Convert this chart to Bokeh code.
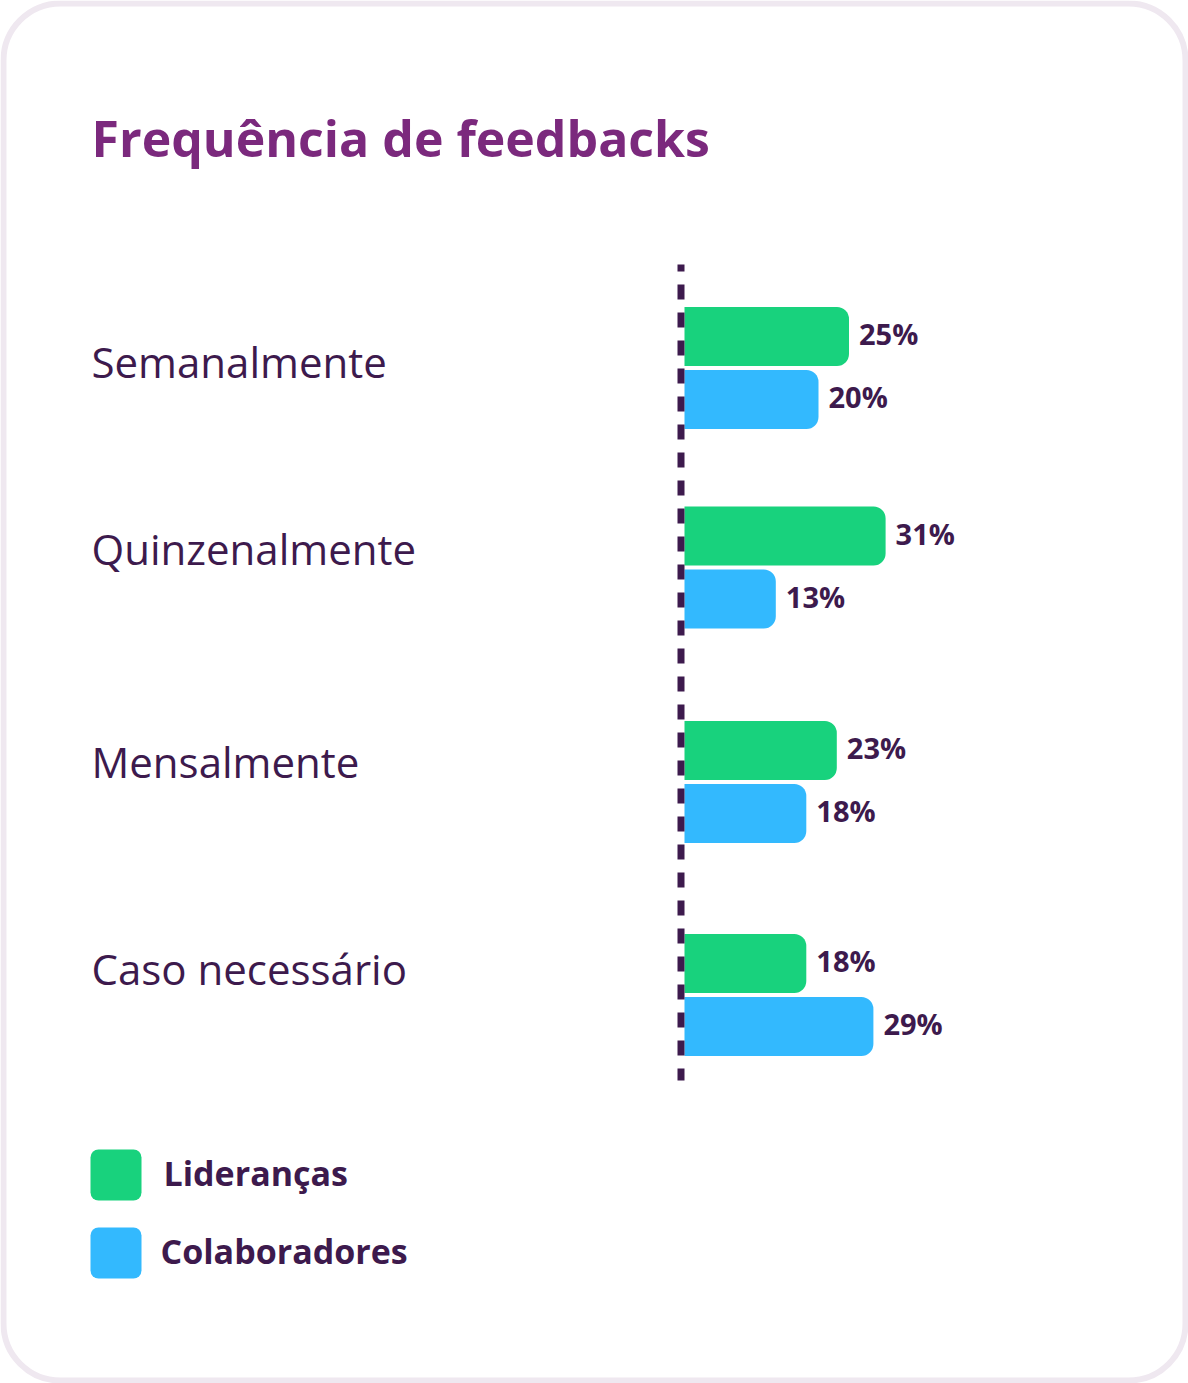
from bokeh.plotting import figure
from bokeh.models import Range1d
from bokeh.core.properties import value
from bokeh.embed import file_html
from bokeh.resources import INLINE

# ---------------- data ----------------
chart_title = "Frequência de feedbacks"
categories = ["Semanalmente", "Quinzenalmente", "Mensalmente", "Caso necessário"]
liderancas = [25, 31, 23, 18]
colaboradores = [20, 13, 18, 29]
series_names = ["Lideranças", "Colaboradores"]
value_labels_lid = [f"{v}%" for v in liderancas]
value_labels_col = [f"{v}%" for v in colaboradores]

# ---------------- layout (pixel space) ----------------
W, H = 1188, 1383

GREEN = "#18d27d"
BLUE = "#33b9fe"
DARK = "#3d1a4d"
PURPLE = "#7b297d"
BORDER = "#efe8f0"
FONT = value("Open Sans")

group_center = [367.5, 567, 781.5, 994.5]
label_baseline = [377, 564, 777, 984]
BAR_H = 59
BAR_SHIFT = 31.5
ZERO_PX = 696.0      # px where 0 % sits on the bar scale
PX_PER_PCT = 6.1
BAR_START_PX = 684.0

p = figure(width=W, height=H, output_backend="svg", toolbar_location=None,
           x_range=Range1d(0, W), y_range=Range1d(H, 0),
           x_axis_location=None, y_axis_location=None, min_border=0,
           background_fill_color="white", border_fill_color="white")
p.outline_line_color = None
p.grid.visible = False

# percentage scale for bars
p.extra_x_ranges = {"pct": Range1d(-ZERO_PX / PX_PER_PCT, (W - ZERO_PX) / PX_PER_PCT)}
bar_left = (BAR_START_PX - ZERO_PX) / PX_PER_PCT

# card
p.quad(left=3, right=W - 3, top=3, bottom=H - 3, fill_color="white",
       line_color=BORDER, line_width=6, border_radius=57)

# title
p.text(x=[91], y=[157 - 20], text=[chart_title], text_font=FONT, text_font_style="bold",
       text_font_size="50px", text_color=PURPLE, text_baseline="alphabetic", text_align="left")

# category labels
p.text(x=[91] * len(categories), y=[b - 16 for b in label_baseline], text=categories, text_font=FONT,
       text_font_size="42px", text_color=DARK, text_baseline="alphabetic", text_align="left")

# bars
y_lid = [c - BAR_SHIFT for c in group_center]
y_col = [c + BAR_SHIFT for c in group_center]
radius = (0, 12, 12, 0)
p.hbar(y=y_lid, left=bar_left, right=liderancas, height=BAR_H, x_range_name="pct",
       fill_color=GREEN, line_color=None, border_radius=radius)
p.hbar(y=y_col, left=bar_left, right=colaboradores, height=BAR_H, x_range_name="pct",
       fill_color=BLUE, line_color=None, border_radius=radius)

# value labels
CAP_HALF = 11 - 14
p.text(x=liderancas, y=[y + CAP_HALF for y in y_lid], text=value_labels_lid, x_range_name="pct",
       x_offset=10, text_font=FONT, text_font_style="bold", text_font_size="29px",
       text_color=DARK, text_baseline="alphabetic", text_align="left")
p.text(x=colaboradores, y=[y + CAP_HALF for y in y_col], text=value_labels_col, x_range_name="pct",
       x_offset=10, text_font=FONT, text_font_style="bold", text_font_size="29px",
       text_color=DARK, text_baseline="alphabetic", text_align="left")

# dashed baseline axis
p.line(x=[680.5, 680.5], y=[264, 1080], line_width=7, line_color=DARK,
       line_dash="15 13", line_dash_offset=8)

# legend
leg_top = [1149, 1227]
leg_colors = [GREEN, BLUE]
p.quad(left=[90, 90], right=[141, 141], top=leg_top, bottom=[t + 51 for t in leg_top],
       fill_color=leg_colors, line_color=None, border_radius=8)
p.text(x=[163, 160], y=[1185 - 13, 1263 - 13], text=series_names, text_font=FONT, text_font_style="bold",
       text_font_size="34px", text_color=DARK, text_baseline="alphabetic", text_align="left")

open("out.html", "w").write(file_html(p, INLINE))
